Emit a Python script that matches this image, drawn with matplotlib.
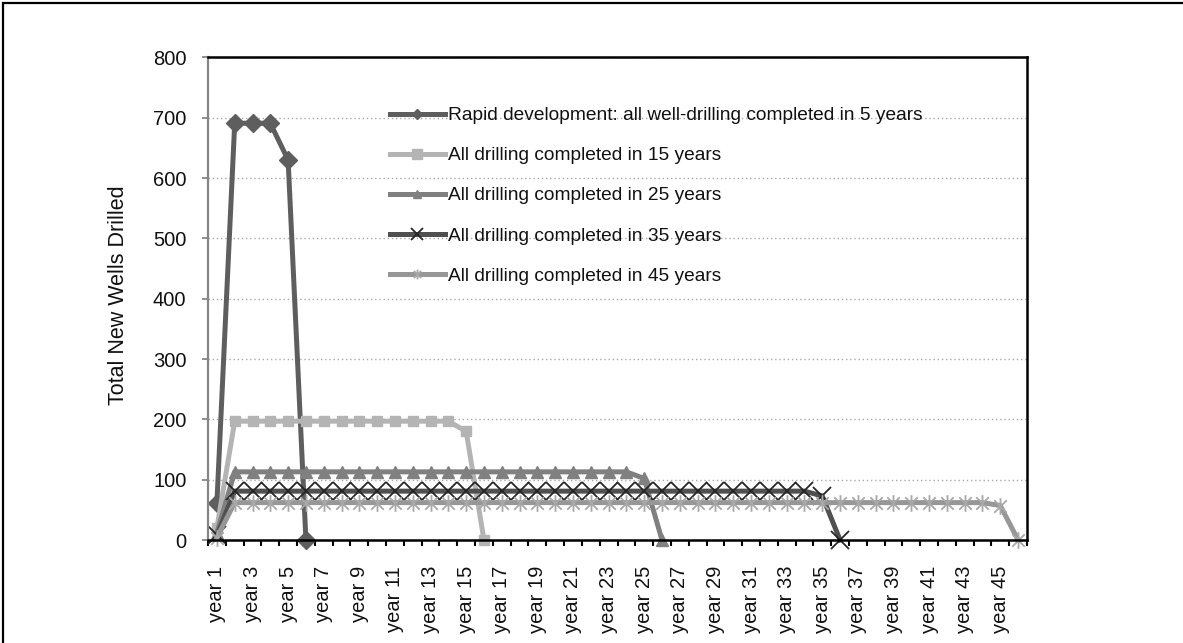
import matplotlib
matplotlib.use("Agg")
import matplotlib.pyplot as plt
from matplotlib.lines import Line2D
from matplotlib.path import Path
from matplotlib.patches import Rectangle

plt.rcParams['font.family'] = ['Liberation Sans', 'DejaVu Sans']

categories = ["year 1", "year 2", "year 3", "year 4", "year 5", "year 6", "year 7", "year 8",
              "year 9", "year 10", "year 11", "year 12", "year 13", "year 14", "year 15",
              "year 16", "year 17", "year 18", "year 19", "year 20", "year 21", "year 22",
              "year 23", "year 24", "year 25", "year 26", "year 27", "year 28", "year 29",
              "year 30", "year 31", "year 32", "year 33", "year 34", "year 35", "year 36",
              "year 37", "year 38", "year 39", "year 40", "year 41", "year 42", "year 43",
              "year 44", "year 45", "year 46"]

rapid = [62, 691, 691, 691, 630, 0]
yrs15 = [20, 197, 197, 197, 197, 197, 197, 197, 197, 197, 197, 197, 197, 197, 180, 0]
yrs25 = [12, 113, 113, 113, 113, 113, 113, 113, 113, 113, 113, 113, 113, 113, 113, 113,
         113, 113, 113, 113, 113, 113, 113, 113, 102, 0]
yrs35 = [8, 81, 81, 81, 81, 81, 81, 81, 81, 81, 81, 81, 81, 81, 81, 81, 81, 81, 81, 81,
         81, 81, 81, 81, 81, 81, 81, 81, 81, 81, 81, 81, 81, 81, 73, 0]
yrs45 = [4, 62, 62, 62, 62, 62, 62, 62, 62, 62, 62, 62, 62, 62, 62, 62, 62, 62, 62, 62,
         62, 62, 62, 62, 62, 62, 62, 62, 62, 62, 62, 62, 62, 62, 62, 62, 62, 62, 62, 62,
         62, 62, 62, 62, 57, 0]

labels = ["Rapid development: all well-drilling completed in 5 years",
          "All drilling completed in 15 years",
          "All drilling completed in 25 years",
          "All drilling completed in 35 years",
          "All drilling completed in 45 years"]

yticks = [0, 100, 200, 300, 400, 500, 600, 700, 800]

W, H = 1183, 643
fig = plt.figure(figsize=(W / 100, H / 100), dpi=100)
L, R, T, B = 208, 1027, 57.5, 540
ax = fig.add_axes([L / W, 1 - B / H, (R - L) / W, (B - T) / H])

star = Path([(0, -1), (0, 1), (-0.75, -0.75), (0.75, 0.75), (-0.75, 0.75), (0.75, -0.75)],
            [Path.MOVETO, Path.LINETO, Path.MOVETO, Path.LINETO, Path.MOVETO, Path.LINETO])

lw = 3.6
styles = [
    dict(color='#5e5e5e', marker='D', ms=9.5, mfc='#5e5e5e', mec='#5e5e5e'),
    dict(color='#b4b4b4', marker='s', ms=7.5, mfc='#b4b4b4', mec='#b4b4b4'),
    dict(color='#808080', marker='^', ms=8, mfc='#808080', mec='#808080'),
    dict(color='#505050', marker='x', ms=13, mec='#262626', mew=1.3),
    dict(color='#979797', marker=star, ms=12, mec='#a8a8a8', mew=1.3),
]
legend_ms = [5, 7, 6, 9, 7]

series = [rapid, yrs15, yrs25, yrs35, yrs45]
for vals, st in zip(series, styles):
    ax.plot(range(len(vals)), vals, lw=lw, solid_joinstyle='round', clip_on=False, **st)

ax.set_xlim(-0.5, len(categories) - 0.5)
ax.set_ylim(0, 800)
ax.set_yticks(yticks)
ax.set_yticklabels([str(v) for v in yticks])

ax.yaxis.grid(True, linestyle=(0, (1, 2)), color='#a8a8a8', lw=1)
ax.set_axisbelow(True)

ax.set_xticks(list(range(0, len(categories), 2)))
ax.set_xticklabels(categories[::2], rotation=90)
ax.set_xticks([i - 0.5 for i in range(len(categories) + 1)], minor=True)
ax.tick_params(axis='x', which='major', length=0, pad=18.7, labelsize=14.5, labelcolor='#111111')
ax.tick_params(axis='x', which='minor', length=4.5, width=1.5, color='black', direction='out')
ax.tick_params(axis='y', length=4.5, width=1.3, color='#868686', pad=11, labelsize=14.5,
               labelcolor='#111111')

for s in ['top', 'right', 'bottom']:
    ax.spines[s].set_color('black')
    ax.spines[s].set_linewidth(1.8)
ax.spines['left'].set_color('#868686')
ax.spines['left'].set_linewidth(1.6)

fig.text(118 / W, 1 - 295 / H, "Total New Wells Drilled", rotation=90, ha='center',
         va='center', fontsize=15.5, color='#111111')

handles = []
for st, ms, lab in zip(styles, legend_ms, labels):
    d = dict(st)
    d['ms'] = ms
    handles.append(Line2D([], [], lw=lw, **d))
leg = ax.legend(handles, labels, loc='upper left', bbox_to_anchor=(390 / W, 1 - 107 / H),
                bbox_transform=fig.transFigure, frameon=False, fontsize=13.8,
                borderpad=0, borderaxespad=0, handlelength=2.85, handletextpad=0.2,
                labelspacing=1.18)
for t in leg.get_texts():
    t.set_color('#111111')

fig.patches.append(Rectangle((3 / W, -0.05), 1.2, 1 - 3 / H + 0.05, transform=fig.transFigure,
                             fill=False, edgecolor='black', lw=1.6))

fig.savefig("out.png", dpi=100)
